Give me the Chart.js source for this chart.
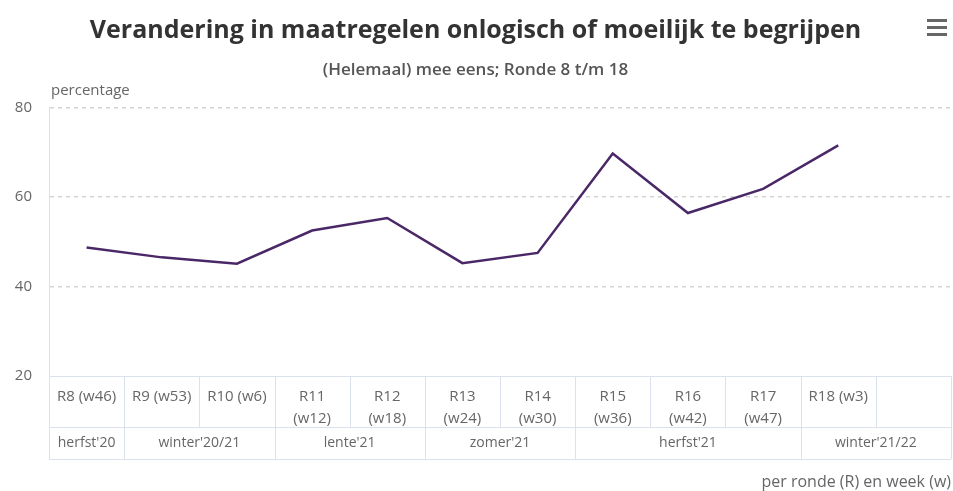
<!DOCTYPE html>
<html>
<head>
<meta charset="utf-8">
<script src="https://cdn.jsdelivr.net/npm/chart.js@4/dist/chart.umd.min.js"></script>
<style>
  html, body { margin: 0; padding: 0; background: #fff; }
  #wrap { width: 953px; height: 491px; }
</style>
</head>
<body>
<div id="wrap"><canvas id="myChart" width="953" height="491"></canvas></div>
<script>
// categories (ronde + week), last slot is left empty in the original
var rounds = ["R8 (w46)", "R9 (w53)", "R10 (w6)", ["R11", "(w12)"], ["R12", "(w18)"],
  ["R13", "(w24)"], ["R14", "(w30)"], ["R15", "(w36)"], ["R16", "(w42)"], ["R17", "(w47)"],
  "R18 (w3)", ""];
// seasons with the index of their first and last category
var seasons = ["herfst'20", "winter'20/21", "lente'21", "zomer'21", "herfst'21", "winter'21/22"];
var seasonStart = [0, 1, 3, 5, 7, 10];
var seasonEnd = [0, 2, 4, 6, 9, 11];
// (helemaal) mee eens, percentage
var values = [48.7, 46.5, 45.1, 52.5, 55.3, 45.2, 47.5, 69.7, 56.4, 61.8, 71.5, null];
var yTicks = [20, 40, 60, 80];

var FONT = "'Open Sans', sans-serif";
var tableColor = "#dbe2ee";
var textGray = "#666666";

// draws the category table, the season row, the y caption and the menu icon
var tablePlugin = {
  id: "tablePlugin",
  afterDraw: function (chart) {
    var ctx = chart.ctx;
    var x = chart.scales.x;
    var area = chart.chartArea;
    var half = (x.getPixelForValue(1) - x.getPixelForValue(0)) / 2;
    var top = area.bottom;
    var mid = top + 51;
    var bottom = top + 83;
    var edge = function (i) { return x.getPixelForValue(i) - half; };

    ctx.save();
    ctx.strokeStyle = tableColor;
    ctx.lineWidth = 1;
    ctx.beginPath();
    [top, mid, bottom].forEach(function (y) {
      ctx.moveTo(area.left, y + 0.5);
      ctx.lineTo(area.right, y + 0.5);
    });
    for (var i = 0; i <= rounds.length; i++) {
      var px = Math.round(edge(i)) + 0.5;
      ctx.moveTo(px, top);
      ctx.lineTo(px, mid);
    }
    ctx.moveTo(Math.round(edge(0)) + 0.5, mid);
    ctx.lineTo(Math.round(edge(0)) + 0.5, bottom);
    for (var s = 0; s < seasons.length; s++) {
      var ex = Math.round(edge(seasonEnd[s] + 1)) + 0.5;
      ctx.moveTo(ex, mid);
      ctx.lineTo(ex, bottom);
    }
    ctx.stroke();

    ctx.fillStyle = textGray;
    ctx.font = "14px " + FONT;
    ctx.textAlign = "center";
    ctx.textBaseline = "middle";
    for (var k = 0; k < seasons.length; k++) {
      var cx = (edge(seasonStart[k]) + edge(seasonEnd[k] + 1)) / 2;
      ctx.fillText(seasons[k], cx, (mid + bottom) / 2);
    }

    // axis caption above the plot
    ctx.textAlign = "left";
    ctx.font = "15px " + FONT;
    ctx.fillText("percentage", area.left + 2, area.top - 17);

    // hamburger menu
    ctx.fillStyle = "#666666";
    [19, 26, 33].forEach(function (y) {
      ctx.fillRect(927, y, 20, 3);
    });
    ctx.restore();
  }
};

var ctx = document.getElementById("myChart");
var myChart = new Chart(ctx, {
  type: "line",
  data: {
    labels: rounds,
    datasets: [
      {
        data: values,
        borderColor: "#4a2868",
        borderWidth: 2.5,
        pointRadius: 0,
        pointHoverRadius: 0,
        tension: 0,
        fill: false,
      },
    ],
  },
  options: {
    responsive: false,
    animation: false,
    layout: { padding: { left: 0, right: 2, top: 0, bottom: 0 } },
    plugins: {
      legend: { display: false },
      tooltip: { enabled: false },
      title: {
        display: true,
        text: "Verandering in maatregelen onlogisch of moeilijk te begrijpen",
        color: "#333333",
        font: { family: FONT, size: 25, weight: "bold", lineHeight: 1.2 },
        padding: { top: 16, bottom: 10 },
      },
      subtitle: {
        display: true,
        text: "(Helemaal) mee eens; Ronde 8 t/m 18",
        color: "#555555",
        font: { family: FONT, size: 17, weight: "600", lineHeight: 1.2 },
        padding: { top: 4, bottom: 27 },
      },
    },
    scales: {
      x: {
        type: "category",
        offset: true,
        grid: { display: false, drawTicks: false },
        border: { display: false },
        ticks: {
          color: textGray,
          font: { family: FONT, size: 15, lineHeight: 1.5 },
          padding: 9,
          maxRotation: 0,
          autoSkip: false,
        },
        title: {
          display: true,
          text: "per ronde (R) en week (w)",
          align: "end",
          color: textGray,
          font: { family: FONT, size: 16, lineHeight: 1.2 },
          padding: { top: 0, bottom: -1 },
        },
        afterFit: function (scale) { scale.height = 115; },
      },
      y: {
        min: 20,
        max: 80,
        afterBuildTicks: function (scale) {
          scale.ticks = yTicks.map(function (v) { return { value: v }; });
        },
        grid: {
          drawTicks: false,
          color: function (c) { return c.tick && c.tick.value === 20 ? "rgba(0,0,0,0)" : "#d4d4d4"; },
          lineWidth: 1.5,
        },
        border: { display: true, color: tableColor, dash: [4, 4] },
        ticks: {
          color: textGray,
          font: { family: FONT, size: 15 },
          padding: 17,
        },
        afterFit: function (scale) { scale.width = 49; },
      },
    },
  },
  plugins: [tablePlugin],
});
</script>
</body>
</html>
